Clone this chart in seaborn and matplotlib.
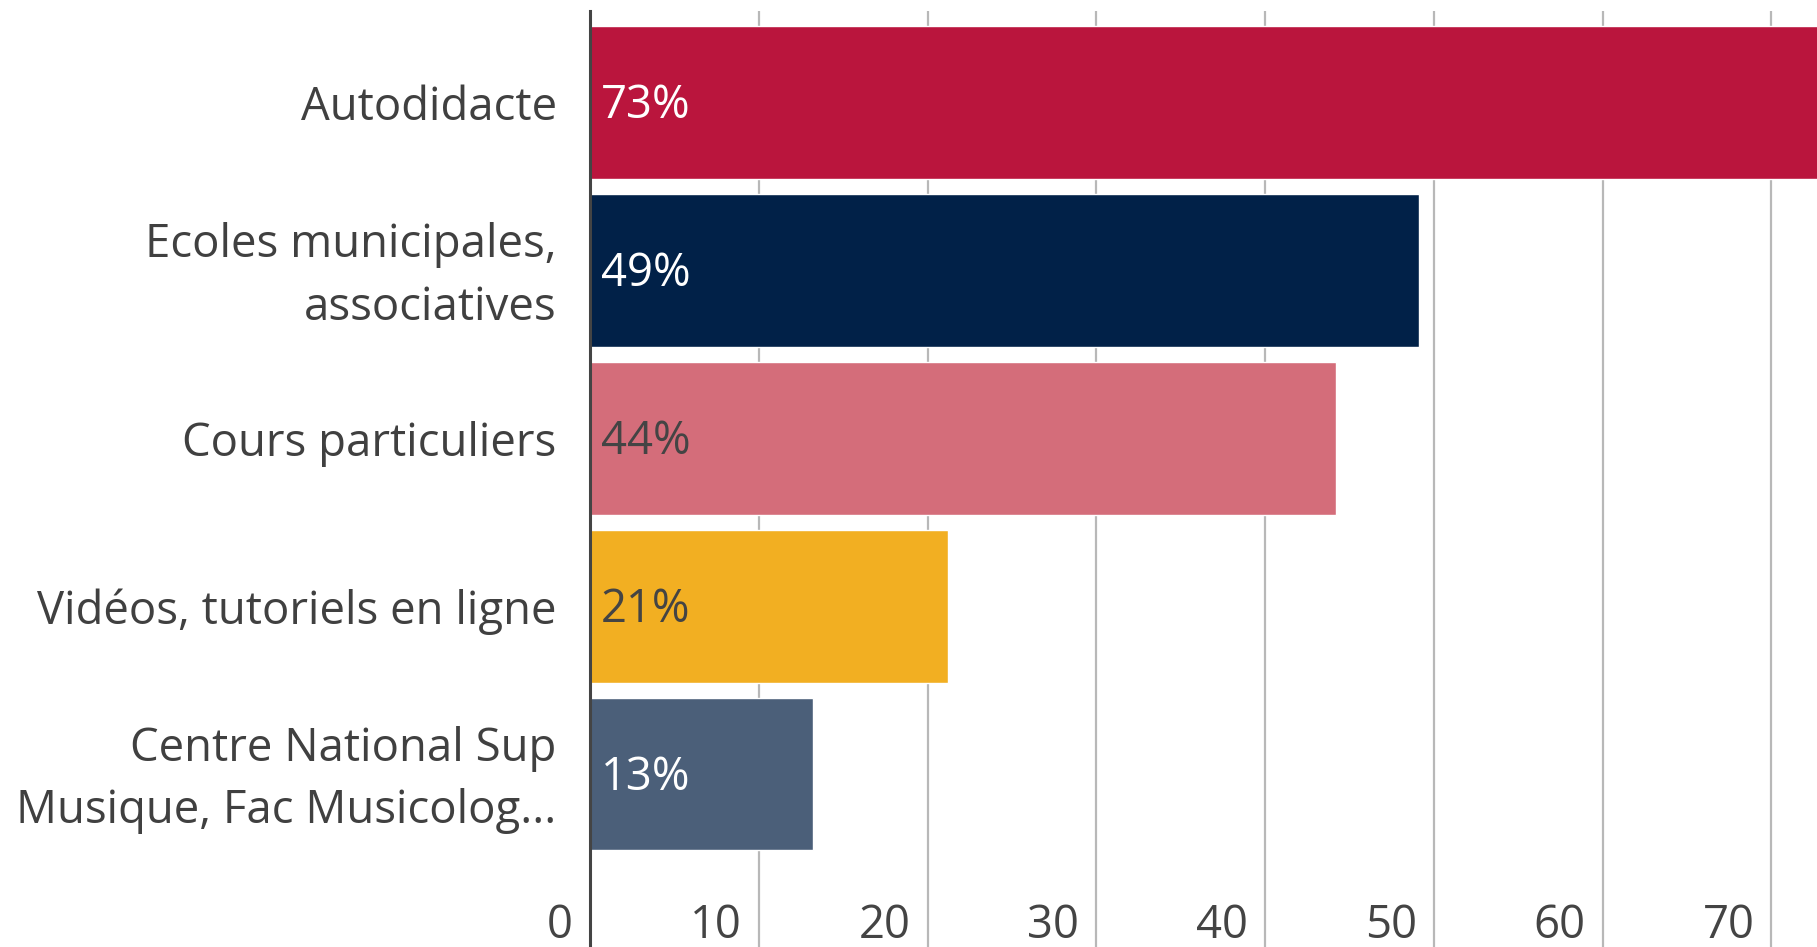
import matplotlib
matplotlib.use("Agg")
import matplotlib.pyplot as plt
import matplotlib.transforms as mtransforms
import seaborn as sns
import pandas as pd

categories = [
    "Autodidacte",
    "Ecoles municipales,\nassociatives",
    "Cours particuliers",
    "Vidéos, tutoriels en ligne",
    "Centre National Sup\nMusique, Fac Musicolog...",
]
values = [73.0, 49.1, 44.2, 21.2, 13.2]
value_labels = ["73%", "49%", "44%", "21%", "13%"]
bar_colors = ["#BA153D", "#012148", "#D46D7A", "#F2AF22", "#4B5F79"]
label_colors = ["#FFFFFF", "#FFFFFF", "#444444", "#444444", "#FFFFFF"]
x_ticks = [0, 10, 20, 30, 40, 50, 60, 70]

sns.set_theme(style="white")
plt.rcParams["font.family"] = ["Open Sans", "DejaVu Sans"]

FS = 32.8
W, H, DPI = 1817, 947, 100
fig = plt.figure(figsize=(W / DPI, H / DPI), dpi=DPI)
ax = fig.add_axes([590 / W, 0, 1 - 590 / W, (947 - 11) / 947])

df = pd.DataFrame({"cat": categories, "val": values})
sns.barplot(data=df, y="cat", x="val", hue="cat", palette=bar_colors,
            order=categories, hue_order=categories, legend=False,
            width=0.91, saturation=1, ax=ax, zorder=2)

ax.set_xlim(0, 72.7)
ax.set_ylim(5.03, -0.545)
ax.set_xlabel("")
ax.set_ylabel("")

ax.set_xticks(x_ticks)
ax.set_xticklabels([str(t) for t in x_ticks])
ax.xaxis.grid(True, color="#b8b8b8", linewidth=1.6, zorder=0)
ax.yaxis.grid(False)
ax.set_axisbelow(True)
ax.tick_params(axis="x", length=0, pad=-32, labelsize=FS, labelcolor="#444444")
ax.tick_params(axis="y", length=0, pad=24, labelsize=FS, labelcolor="#404040")
off = mtransforms.ScaledTranslation(-17 / DPI, 0, fig.dpi_scale_trans)
for lbl in ax.get_xticklabels():
    lbl.set_horizontalalignment("right")
    lbl.set_verticalalignment("top")
    lbl.set_transform(lbl.get_transform() + off)
up = mtransforms.ScaledTranslation(0, 8 / DPI, fig.dpi_scale_trans)
for lbl in ax.get_yticklabels():
    lbl.set_linespacing(1.48)
    if "\n" in lbl.get_text():
        lbl.set_transform(lbl.get_transform() + up)

for s in ["top", "right", "bottom"]:
    ax.spines[s].set_visible(False)
ax.spines["left"].set_color("#444444")
ax.spines["left"].set_linewidth(2.2)
ax.spines["left"].set_zorder(5)

for i, (v, t, c) in enumerate(zip(values, value_labels, label_colors)):
    ax.annotate(t, xy=(0, i), xytext=(8, -2.5), textcoords="offset points",
                ha="left", va="center", fontsize=FS, color=c, zorder=6)

fig.savefig("out.png", dpi=DPI)
